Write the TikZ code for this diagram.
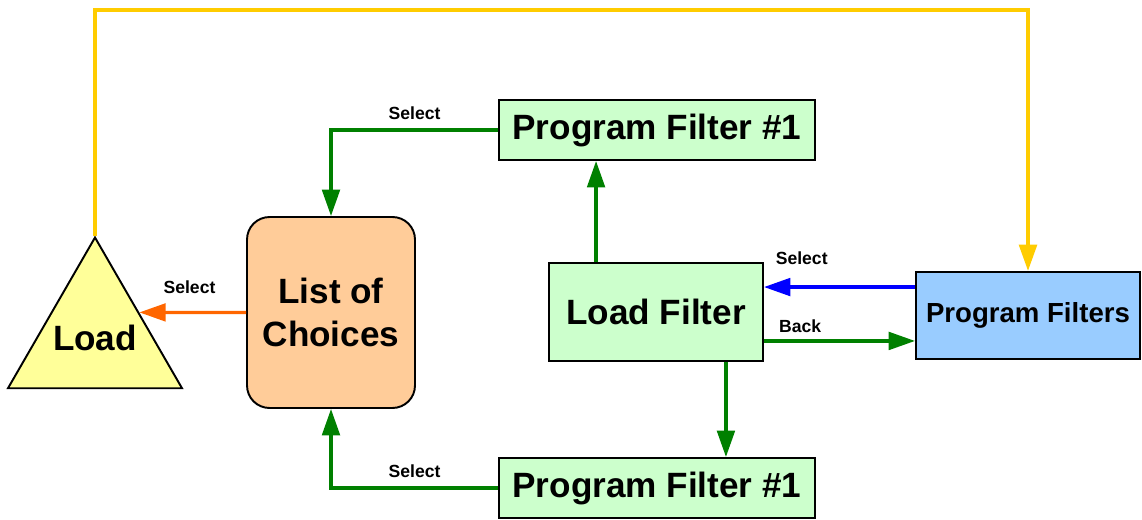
\documentclass[tikz,border=0pt]{standalone}
\usepackage{fontspec}
\setmainfont{Liberation Sans}
\usetikzlibrary{arrows.meta}
\usetikzlibrary{shapes.geometric}
\usetikzlibrary{calc}
\definecolor{goldline}{HTML}{FFCC00}
\definecolor{selorange}{HTML}{FF6600}
\definecolor{selgreen}{HTML}{008000}
\definecolor{selblue}{HTML}{0000FF}
\definecolor{loadyellow}{HTML}{FFFF99}
\definecolor{choicepeach}{HTML}{FFCC99}
\definecolor{filtergreen}{HTML}{CCFFCC}
\definecolor{filterblue}{HTML}{99CCFF}
\tikzset{>={Triangle[length=15pt, width=10pt]}}
\tikzset{filterbox/.style={draw, line width=1.1pt, fill=filtergreen, inner sep=0pt, font=\bfseries\fontsize{20}{24}\selectfont}}
\tikzset{link/.style={->, line width=1.9pt}}
\tikzset{tag/.style={text=black, font=\bfseries\fontsize{10}{12}\selectfont, inner sep=0pt}}

\begin{document}
\begin{tikzpicture}[x=0.02cm, y=-0.02cm]
    \useasboundingbox(0, 0)rectangle(1142, 520);
    \node[regular polygon, regular polygon sides=3, minimum size=4.02cm, draw, line width=1.1pt, fill=loadyellow, inner sep=0pt, label={[font=\bfseries\fontsize{20}{24}\selectfont]center:Load}](load)at(95, 338){};
    \node[filterbox, fill=choicepeach, rounded corners=0.45cm, minimum width=3.36cm, minimum height=3.82cm, align=center](choices)at(331, 312.5){List of\\Choices};
    \node[filterbox, minimum width=6.32cm, minimum height=1.2cm](pfa)at(657, 130){Program Filter \#1};
    \node[filterbox, minimum width=4.28cm, minimum height=1.96cm](lf)at(656, 312){Load Filter};
    \node[filterbox, minimum width=6.32cm, minimum height=1.2cm](pfb)at(657, 488){Program Filter \#1};
    \node[filterbox, fill=filterblue, minimum width=4.48cm, minimum height=1.74cm, font=\bfseries\fontsize{15.7}{19}\selectfont](pfs)at(1028, 315.5){Program Filters};
    \coordinate(ceil)at(0, 10);
    \coordinate(lfup)at($(lf.north west)+(48, 0)$);
    \coordinate(lfdown)at($(lf.south east)+(-38, 0)$);
    \coordinate(selin)at($(lf.north east)+(0, 25)$);
    \coordinate(backout)at($(lf.south east)+(0, -21)$);
    \draw[link, line width=2.2pt, goldline](load.corner 1)|-(ceil -| pfs.north)--(pfs.north);
    \draw[link, selorange](choices.west)--(load.side 3)node[tag, pos=.53, above=9.7pt]{Select};
    \draw[link, selgreen](pfa.west)-|(choices.north)node[tag, pos=.25, above=5pt]{Select};
    \draw[link, selgreen](pfb.west)-|(choices.south)node[tag, pos=.25, above=5pt]{Select};
    \draw[link, selgreen](lfup)--(lfup |- pfa.south);
    \draw[link, selgreen](lfdown)--(lfdown |- pfb.north);
    \draw[link, selblue](selin -| pfs.west)--(selin)node[tag, pos=.75, above=12pt]{Select};
    \draw[link, selgreen](backout)--(backout -| pfs.west)node[tag, pos=.24, above=4pt]{Back};
\end{tikzpicture}
\end{document}
